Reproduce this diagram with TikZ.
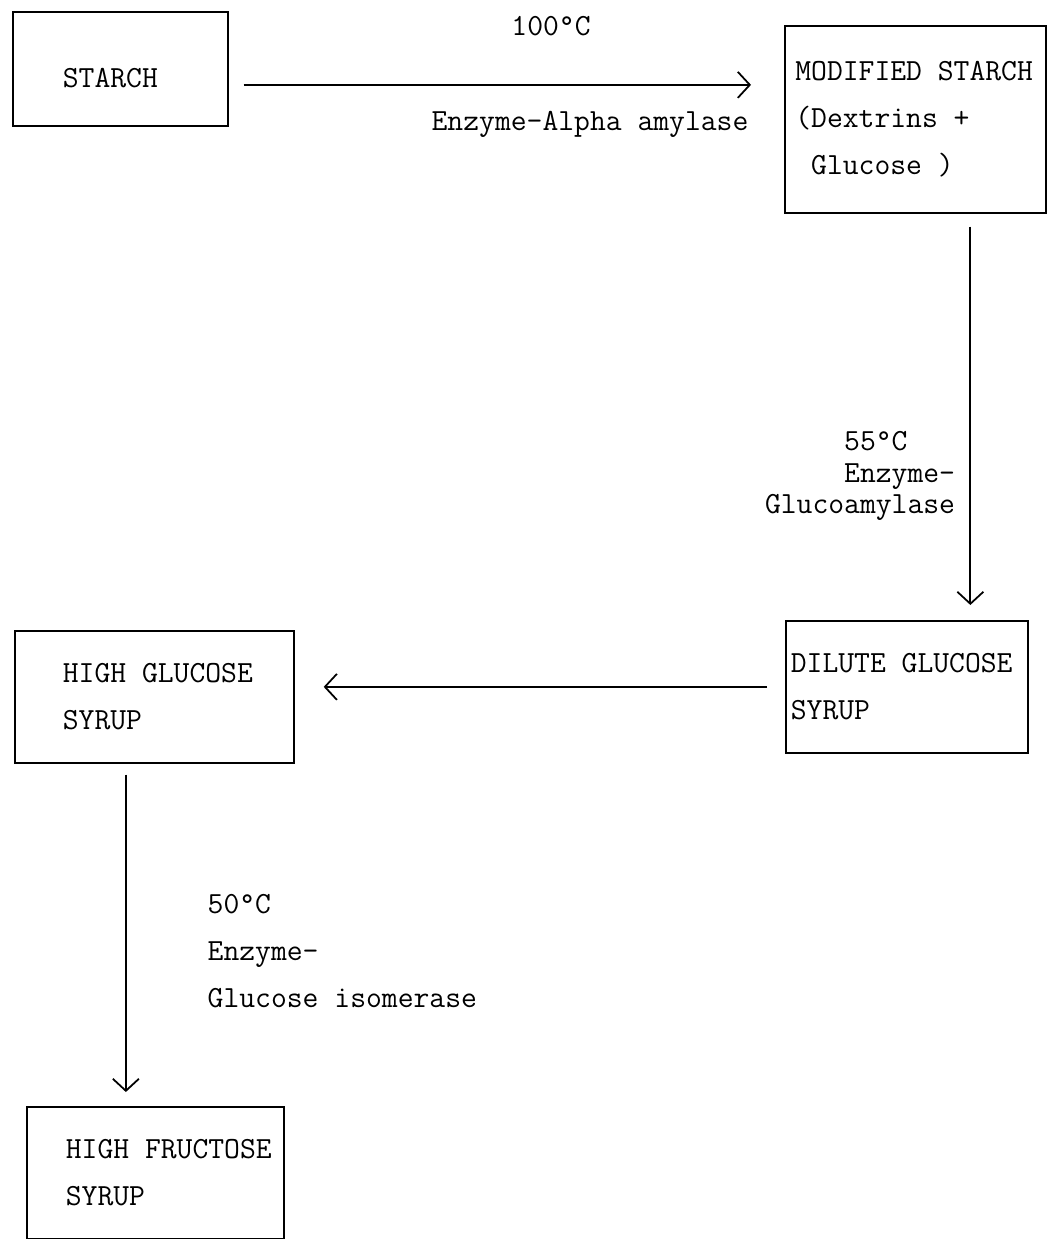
\documentclass[tikz,border=0pt]{standalone}
\usepackage{fontspec}
\usepackage{tikz}
\usetikzlibrary{arrows.meta, calc, positioning}
\newcommand{\flowfont}{\fontsize{17.5}{26.7}\selectfont\ttfamily}

\begin{document}
\begin{tikzpicture}[x=0.02cm, y=-0.02cm, line width=1pt, >={Straight Barb[length=2.4mm, width=5.2mm]}]
    \tikzset{stage/.style={draw, anchor=north west, align=flush left, inner xsep=0pt, inner ysep=0pt, font=\flowfont}}
    \useasboundingbox (0,0) rectangle (1051,1239);

    % Process stages
    \node[stage, minimum width=4.30cm, minimum height=2.28cm, text width=2.30cm, text height=0.74cm] (starch) at (12,11) {STARCH};
    \node[stage, minimum width=5.22cm, minimum height=3.74cm, text width=4.80cm] (modified) at (784,25) {\mbox{MODIFIED STARCH}\\(Dextrins +\\\hphantom{(}Glucose )};
    \node[stage, minimum width=4.84cm, minimum height=2.64cm, text width=4.64cm] (dilute) at (785,620) {\mbox{DILUTE GLUCOSE}\\SYRUP};
    \node[stage, minimum width=5.58cm, minimum height=2.64cm, text width=3.66cm] (highglucose) at (14,630) {\mbox{HIGH GLUCOSE}\\SYRUP};
    \node[stage, minimum width=5.14cm, minimum height=2.64cm, text width=3.58cm] (highfructose) at (26,1106) {\mbox{HIGH FRUCTOSE}\\SYRUP};

    % Conversion steps
    \draw[->, shorten <=0.3cm, shorten >=0.66cm] ([yshift=-0.32cm]starch.east) -- ([yshift=-0.32cm]starch.east -| modified.west);
    \draw[->, shorten <=0.26cm, shorten >=0.3cm] ([xshift=1.1cm]modified.south) -- ([xshift=1.1cm]modified.south |- dilute.north);
    \draw[->, shorten <=0.36cm, shorten >=0.58cm] (dilute.west) -- (dilute.west -| highglucose.east);
    \draw[->, shorten <=0.22cm, shorten >=0.28cm] ([xshift=-0.57cm]highglucose.south) -- ([xshift=-0.57cm]highglucose.south |- highfructose.north);

    % Conditions and enzymes
    \node[font=\flowfont] (hundred) at (551,26) {100°C};
    \node[font=\flowfont] (alpha) at (590,124) {Enzyme-Alpha amylase};
    \node[font=\fontsize{17.5}{17.8}\selectfont\ttfamily, align=left] (glucoamylase) at (860,476) {\hphantom{00000}55°C\\\hphantom{00000}Enzyme-\\Glucoamylase};
    \node[font=\flowfont, align=left, anchor=west] (isomerase) at (201,951) {50°C\\Enzyme-\\Glucose isomerase};
\end{tikzpicture}
\end{document}
